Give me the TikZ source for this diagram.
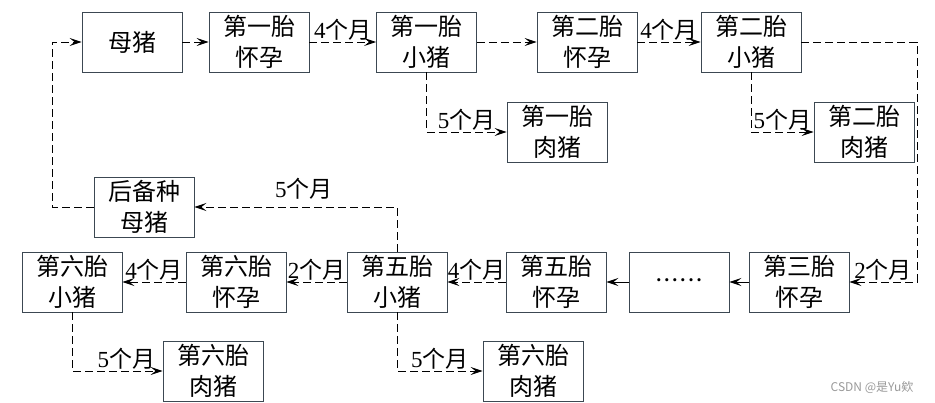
\documentclass[tikz,border=0pt]{standalone}
\usepackage{fontspec}
\setmainfont{Liberation Serif}
\newfontfamily\cjk{Noto Sans CJK SC}
\usetikzlibrary{arrows.meta,calc}
\tikzset {>={Stealth[length=12pt,width=8pt,inset=5pt]}}
\definecolor{boxline}{RGB}{60,72,82}
\tikzset{box/.style={draw=boxline,line width=0.9pt,minimum width=100,minimum height=60,
    align=center,inner sep=0pt,font=\cjk\fontsize{24}{31}\selectfont},
  lnk/.style={line width=0.9pt,dash pattern=on 8pt off 4pt,->},
  slnk/.style={line width=0.9pt,->},
  lab/.style={inner sep=1pt,font=\fontsize{23}{26}\selectfont}}
\newcommand\yue{{\cjk 个月}}

\begin{document}
\begin{tikzpicture}[x=1pt,y=-1pt]
\useasboundingbox (0,0) rectangle (935,403);
\node[box] (musow) at (132,42) {母猪};
\node[box] (huaiyun1) at (259,42) {第一胎\\怀孕};
\node[box] (xiaozhu1) at (426.5,42) {第一胎\\小猪};
\node[box] (huaiyun2) at (587,42) {第二胎\\怀孕};
\node[box] (xiaozhu2) at (751,42) {第二胎\\小猪};
\node[box] (rouzhu1) at (557,132) {第一胎\\肉猪};
\node[box] (rouzhu2) at (864,132) {第二胎\\肉猪};
\node[box] (houbei) at (144,207) {后备种\\母猪};
\node[box] (xiaozhu6) at (72,282) {第六胎\\小猪};
\node[box] (huaiyun6) at (236,282) {第六胎\\怀孕};
\node[box] (xiaozhu5) at (397,282) {第五胎\\小猪};
\node[box] (huaiyun5) at (556,282) {第五胎\\怀孕};
\node[box,font=\fontsize{13}{16}\selectfont] (dots) at (679,282)
  {•\kern3.5pt•\kern3.5pt•\kern3.5pt•\kern3.5pt•\kern3.5pt•};
\node[box] (huaiyun3) at (799,282) {第三胎\\怀孕};
\node[box] (rouzhu6) at (213,371) {第六胎\\肉猪};
\node[box] (rouzhu5) at (533,371) {第六胎\\肉猪};
\coordinate (rt) at (917,42);
\coordinate (rb) at (917,282);
\coordinate (lt) at (52,42);
\coordinate (lb) at (52,207);
\draw[lnk] (musow) -- (huaiyun1);
\draw[lnk] (huaiyun1) -- node[lab,above] {4\yue} (xiaozhu1);
\draw[lnk] (xiaozhu1) -- (huaiyun2);
\draw[lnk] (huaiyun2) -- node[lab,above] {4\yue} (xiaozhu2);
\draw[lnk] (xiaozhu2) -- (rt) -- (rb) -- node[lab,above] {2\yue} (huaiyun3);
\draw[slnk] (huaiyun3) -- (dots);
\draw[slnk] (dots) -- (huaiyun5);
\draw[lnk] (huaiyun5) -- node[lab,above] {4\yue} (xiaozhu5);
\draw[lnk] (xiaozhu5) -- node[lab,above] {2\yue} (huaiyun6);
\draw[lnk] (huaiyun6) -- node[lab,above] {4\yue} (xiaozhu6);
\draw[lnk] (xiaozhu5.north) |- node[lab,above,pos=0.73,yshift=6pt] {5\yue} (houbei.east);
\draw[lnk] (houbei.west) -- (lb) -- (lt) -- (musow.west);
\draw[lnk] (xiaozhu1.south) |- node[lab,above,pos=0.75] {5\yue} (rouzhu1.west);
\draw[lnk] (xiaozhu2.south) |- node[lab,above,pos=0.75] {5\yue} (rouzhu2.west);
\draw[lnk] (xiaozhu6.south) |- node[lab,above,pos=0.8] {5\yue} (rouzhu6.west);
\draw[lnk] (xiaozhu5.south) |- node[lab,above,pos=0.75] {5\yue} (rouzhu5.west);
\node[text=black!40,font=\cjk\fontsize{12}{14}\selectfont] (mark) at (872,387) {CSDN @是Yu欸};
\end{tikzpicture}
\end{document}
